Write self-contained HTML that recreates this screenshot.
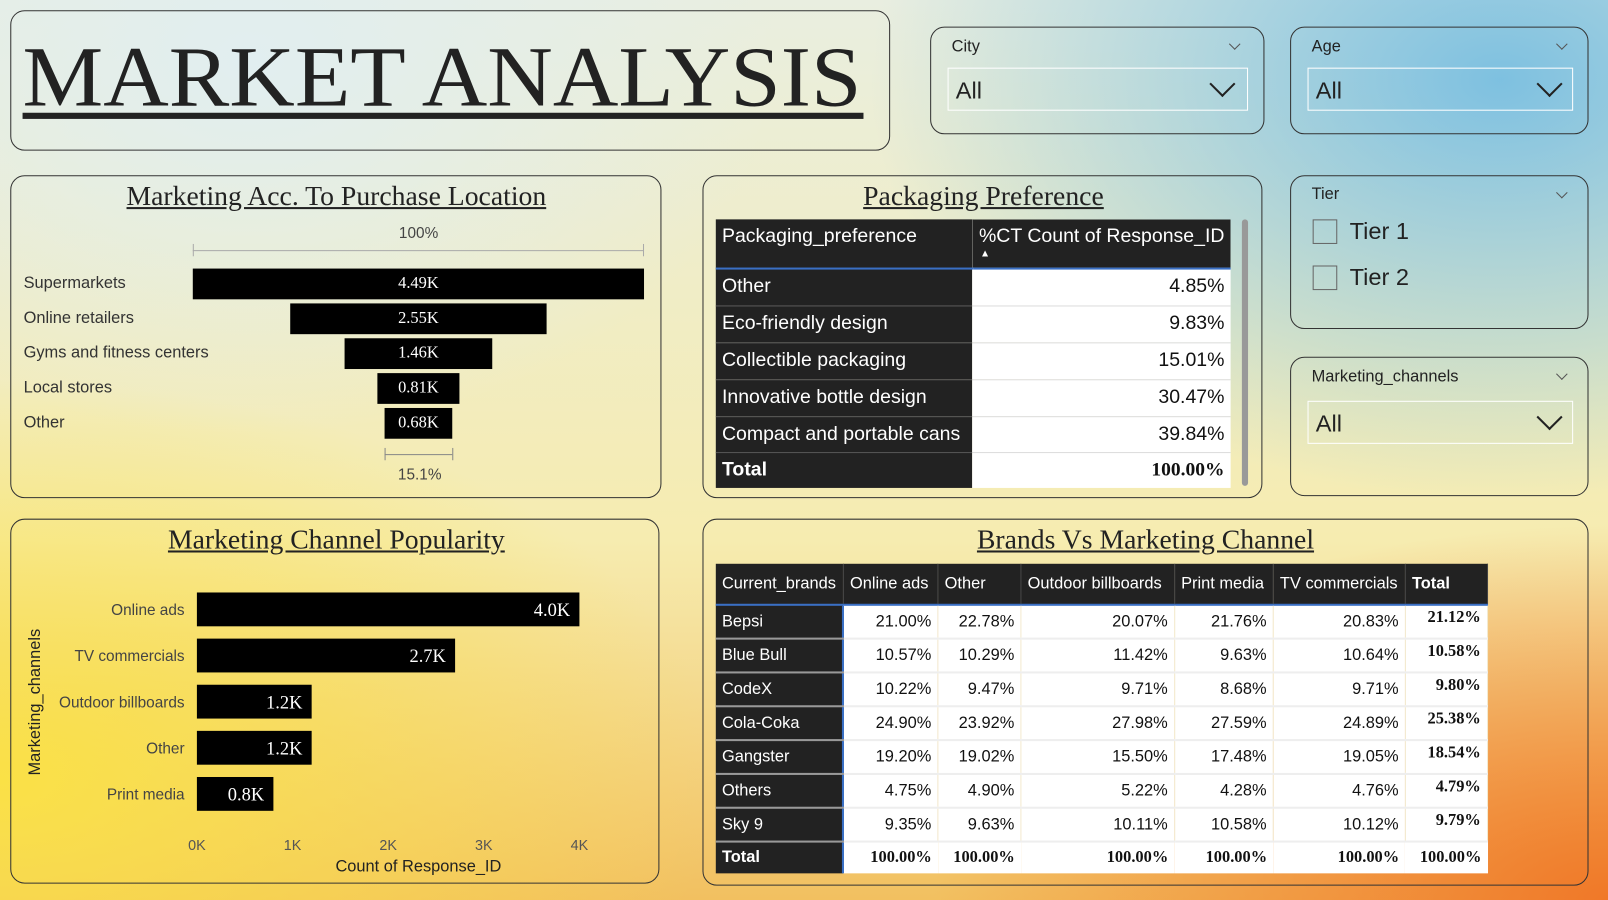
<!DOCTYPE html>
<html><head><meta charset="utf-8"><style>
html,body{margin:0;padding:0;width:1608px;height:900px;overflow:hidden}
body{background:
radial-gradient(ellipse 900px 600px at 1500px 80px, rgba(120,190,225,0.95), rgba(120,190,225,0) 70%),
radial-gradient(ellipse 700px 500px at 250px 60px, rgba(225,238,240,1), rgba(225,238,240,0) 75%),
radial-gradient(ellipse 900px 500px at 1608px 900px, rgba(240,120,40,1), rgba(240,140,50,0) 75%),
radial-gradient(ellipse 900px 500px at 0px 780px, rgba(250,225,70,1), rgba(250,225,70,0) 80%),
linear-gradient(180deg,#e9eee0 0%,#f6ecb0 60%,#f2c060 100%);
font-family:"Liberation Sans",sans-serif}
#w{position:absolute;left:0;top:0;width:1568px;height:878px;transform:scale(1.02551,1.02506);transform-origin:0 0}
.p{position:absolute;border:1.5px solid #333;border-radius:14px;box-sizing:border-box}
.t{position:absolute;font-family:"Liberation Serif",serif;font-size:27px;text-decoration:underline;color:#222;white-space:nowrap;transform:translateX(-50%)}
.a{position:absolute;white-space:nowrap}
.dd{position:absolute;border:1.5px solid #fff;box-sizing:border-box;font-size:23px;color:#222}
.chev{position:absolute;width:16px;height:16px;border-right:2px solid #222;border-bottom:2px solid #222;transform:rotate(45deg)}
.small{position:absolute;width:7px;height:7px;border-right:1.3px solid #555;border-bottom:1.3px solid #555;transform:rotate(45deg)}
table{border-collapse:collapse;position:absolute}
td{padding:0 6px;white-space:nowrap}
.dk{background:#222;color:#fff}
.wh{background:#fff;color:#111;text-align:right}
.bx{position:absolute;background:#000;color:#fff;font-family:"Liberation Serif",serif;font-size:16px;text-align:center}
</style></head><body>
<div id="w">
<div class="p" style="left:10px;top:10px;width:858px;height:137px"></div>
<svg class="a" style="left:0;top:0" width="870" height="140"><text x="22" y="103" font-family="Liberation Serif" font-size="84" textLength="818" lengthAdjust="spacingAndGlyphs" fill="#222">MARKET ANALYSIS</text><rect x="22" y="110" width="820" height="6" fill="#222"/></svg>

<div class="p" style="left:907px;top:26px;width:326px;height:105px">
<div class="a" style="left:20px;top:10px;font-size:16px;color:#222">City</div><div class="small" style="left:292px;top:12px"></div>
<div class="dd" style="left:16px;top:39px;width:293px;height:42px"><span class="a" style="left:7px;top:8px">All</span><div class="chev" style="left:258px;top:6px"></div></div></div>
<div class="p" style="left:1258px;top:26px;width:291px;height:105px">
<div class="a" style="left:20px;top:10px;font-size:16px;color:#222">Age</div><div class="small" style="left:260px;top:12px"></div>
<div class="dd" style="left:16px;top:39px;width:259px;height:42px"><span class="a" style="left:7px;top:8px">All</span><div class="chev" style="left:226px;top:6px"></div></div></div>
<div class="p" style="left:1258px;top:171px;width:291px;height:150px">
<div class="a" style="left:20px;top:9px;font-size:16px;color:#222">Tier</div><div class="small" style="left:260px;top:12px"></div>
<div class="a" style="left:21px;top:42px;width:24px;height:24px;border:1.5px solid #666;box-sizing:border-box"></div><div class="a" style="left:57px;top:40px;font-size:23px;color:#222">Tier 1</div>
<div class="a" style="left:21px;top:87px;width:24px;height:24px;border:1.5px solid #666;box-sizing:border-box"></div><div class="a" style="left:57px;top:85px;font-size:23px;color:#222">Tier 2</div></div>
<div class="p" style="left:1258px;top:348px;width:291px;height:136px">
<div class="a" style="left:20px;top:10px;font-size:16px;color:#222">Marketing_channels</div><div class="small" style="left:260px;top:12px"></div>
<div class="dd" style="left:16px;top:42px;width:259px;height:42px"><span class="a" style="left:7px;top:8px">All</span><div class="chev" style="left:226px;top:6px"></div></div></div>

<div class="p" style="left:10px;top:171px;width:635px;height:315px"></div>
<div class="t" style="left:328px;top:176px">Marketing Acc. To Purchase Location</div>
<div id="funnel"></div>

<div class="p" style="left:685px;top:171px;width:546px;height:315px"></div>
<div class="t" style="left:959px;top:176px">Packaging Preference</div>
<table style="left:698px;top:214px;width:502px;font-size:19px">
<tr style="height:48px"><td class="dk" style="vertical-align:top;padding-top:6px;width:241px;border-bottom:2px solid #3a6fc4;border-right:1px solid #555">Packaging_preference</td><td class="dk" style="vertical-align:top;padding-top:6px;border-bottom:2px solid #3a6fc4;position:relative">%CT Count of Response_ID<span style="position:absolute;left:7px;top:28px;font-size:10px">▲</span></td></tr>
<tr style="height:36px"><td class="dk" style="border-bottom:1px solid #555">Other</td><td class="wh" style="border-bottom:1px solid #ddd">4.85%</td></tr>
<tr style="height:36px"><td class="dk" style="border-bottom:1px solid #555">Eco-friendly design</td><td class="wh" style="border-bottom:1px solid #ddd">9.83%</td></tr>
<tr style="height:36px"><td class="dk" style="border-bottom:1px solid #555">Collectible packaging</td><td class="wh" style="border-bottom:1px solid #ddd">15.01%</td></tr>
<tr style="height:36px"><td class="dk" style="border-bottom:1px solid #555">Innovative bottle design</td><td class="wh" style="border-bottom:1px solid #ddd">30.47%</td></tr>
<tr style="height:35px"><td class="dk" style="border-bottom:1px solid #555">Compact and portable cans</td><td class="wh" style="border-bottom:1px solid #ddd">39.84%</td></tr>
<tr style="height:35px"><td class="dk" style="font-weight:bold">Total</td><td class="wh" style="font-family:'Liberation Serif',serif;font-weight:bold">100.00%</td></tr></table>
<div class="a" style="left:1211px;top:214px;width:6px;height:260px;background:#999;border-radius:3px"></div>

<div class="p" style="left:10px;top:506px;width:633px;height:356px"></div>
<div class="t" style="left:328px;top:511px">Marketing Channel Popularity</div>
<svg id="bars" class="a" style="left:0;top:0" width="650" height="870"></svg>

<div class="p" style="left:685px;top:506px;width:864px;height:358px"></div>
<div class="t" style="left:1117px;top:511px">Brands Vs Marketing Channel</div>
<table id="bt" style="left:698px;top:550px;width:753px;font-size:16px"></table>
</div>
<script>
// funnel
const fCats=["Supermarkets","Online retailers","Gyms and fitness centers","Local stores","Other"];
const fVals=[4.49,2.55,1.46,0.81,0.68];
const fLabels=["4.49K","2.55K","1.46K","0.81K","0.68K"];
const f=document.getElementById('funnel');
const fx=v=>v/fVals[0]*440;
let h='<div class="a" style="left:389px;top:219px;font-size:15px;color:#444">100%</div><div class="a" style="left:188px;top:244px;width:440px;height:1px;background:#aaa"></div><div class="a" style="left:188px;top:238px;width:1px;height:12px;background:#aaa"></div><div class="a" style="left:627px;top:238px;width:1px;height:12px;background:#aaa"></div>';
fCats.forEach((c,i)=>{const w=fx(fVals[i]),y=262+i*34;
h+=`<div class="a" style="left:23px;top:${y+6}px;font-size:16px;color:#333">${c}</div><div class="bx" style="left:${408-w/2}px;top:${y}px;width:${w}px;height:30px;line-height:30px">${fLabels[i]}</div>`;});
const lw=fx(fVals[4]);
h+=`<div class="a" style="left:${408-lw/2}px;top:443px;width:${lw}px;height:1px;background:#888"></div><div class="a" style="left:${408-lw/2}px;top:437px;width:1px;height:12px;background:#888"></div><div class="a" style="left:${408+lw/2}px;top:437px;width:1px;height:12px;background:#888"></div><div class="a" style="left:388px;top:455px;font-size:15px;color:#444">15.1%</div>`;
f.innerHTML=h;
// bar chart
const bCats=["Online ads","TV commercials","Outdoor billboards","Other","Print media"];
const bVals=[4.0,2.7,1.2,1.2,0.8];
const bLabels=["4.0K","2.7K","1.2K","1.2K","0.8K"];
const ticks=[0,1,2,3,4];
const tickLabels=["0K","1K","2K","3K","4K"];
const X=v=>192+v*93.25, Y=i=>578+i*45;
const s=document.getElementById('bars');
let g='';
bCats.forEach((c,i)=>{g+=`<text x="180" y="${Y(i)+22}" text-anchor="end" font-size="15" fill="#444">${c}</text><rect x="${X(0)}" y="${Y(i)}" width="${X(bVals[i])-X(0)}" height="33" fill="#000"/><text x="${X(bVals[i])-9}" y="${Y(i)+23}" text-anchor="end" font-family="Liberation Serif" font-size="18" fill="#fff">${bLabels[i]}</text>`;});
ticks.forEach((t,i)=>{g+=`<text x="${X(t)}" y="829" text-anchor="middle" font-size="14" fill="#555">${tickLabels[i]}</text>`;});
g+=`<text x="408" y="850" text-anchor="middle" font-size="16" fill="#222">Count of Response_ID</text><text transform="translate(39,685) rotate(-90)" text-anchor="middle" font-size="16" fill="#222">Marketing_channels</text>`;
s.innerHTML=g;
// brands table
const cols=["Online ads","Other","Outdoor billboards","Print media","TV commercials"];
const brands=["Bepsi","Blue Bull","CodeX","Cola-Coka","Gangster","Others","Sky 9"];
const vals=[["21.00%","22.78%","20.07%","21.76%","20.83%","21.12%"],["10.57%","10.29%","11.42%","9.63%","10.64%","10.58%"],["10.22%","9.47%","9.71%","8.68%","9.71%","9.80%"],["24.90%","23.92%","27.98%","27.59%","24.89%","25.38%"],["19.20%","19.02%","15.50%","17.48%","19.05%","18.54%"],["4.75%","4.90%","5.22%","4.28%","4.76%","4.79%"],["9.35%","9.63%","10.11%","10.58%","10.12%","9.79%"]];
const widths=[124,92,82,150,96,128,81];
let t='<tr style="height:40px">'+['Current_brands',...cols,'Total'].map((c,i)=>`<td class="dk" style="width:${widths[i]-12}px;border-bottom:2px solid #3a6fc4;border-right:1px solid #444;${i==6?'font-weight:bold':''}">${c}</td>`).join('')+'</tr>';
brands.forEach((b,r)=>{t+=`<tr style="height:33px"><td class="dk" style="border-bottom:2px solid #999;border-right:2px solid #3a6fc4">${b}</td>`+vals[r].map((v,i)=>`<td class="wh" style="border-bottom:2px solid #eee;border-right:1px solid #f3ead0;${i==5?'font-family:Liberation Serif,serif;font-weight:bold;vertical-align:top;padding-top:3px':''}">${v}</td>`).join('')+'</tr>';});
t+='<tr style="height:31px"><td class="dk" style="font-weight:bold;border-right:2px solid #3a6fc4">Total</td>'+Array(6).fill('<td class="wh" style="font-family:Liberation Serif,serif;font-weight:bold">100.00%</td>').join('')+'</tr>';
document.getElementById('bt').innerHTML=t;
</script>
</body></html>
